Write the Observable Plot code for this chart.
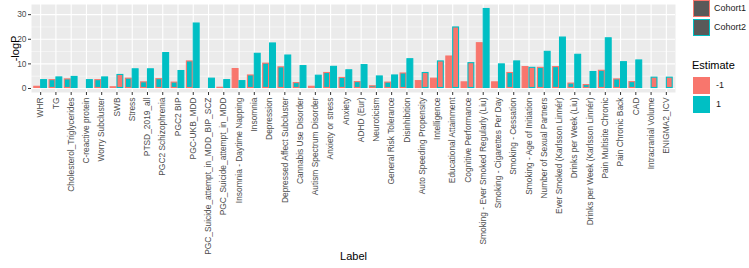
<!DOCTYPE html>
<html>
<head>
<meta charset="utf-8">
<script src="https://cdn.jsdelivr.net/npm/d3@7"></script>
<script src="https://cdn.jsdelivr.net/npm/@observablehq/plot@0.6"></script>
<style>
  body { margin: 0; background: #ffffff; }
  #wrap { position: relative; width: 749px; height: 268px; font-family: "Liberation Sans", Arial, sans-serif; }
  #chart svg { display: block; }
  .key { position: absolute; width: 15px; height: 15px; box-sizing: content-box; }
  .ltxt { position: absolute; font-size: 9px; color: #1a1a1a; line-height: 1; }
  .ltitle { position: absolute; font-size: 11px; color: #000; line-height: 1; }
</style>
</head>
<body>
<div id="wrap">
  <div id="chart"></div>
</div>
<script>
const labels = [
  "WHR", "TG", "Cholesterol_Triglycerides", "C-reactive protein", "Worry Subcluster",
  "SWB", "Stress", "PTSD_2019_all", "PGC2 Schizophrenia", "PGC2 BIP",
  "PGC-UKB_MDD", "PGC_Suicide_attempt_in_MDD_BIP_SCZ", "PGC_Suicide_attempt_in_MDD",
  "Insomnia - Daytime Napping", "Insomnia", "Depression", "Depressed Affect Subcluster",
  "Cannabis Use Disorder", "Autism Spectrum Disorder", "Anxiety or stress", "Anxiety",
  "ADHD (Eur)", "Neuroticism", "General Risk Tolerance", "Disinhibition",
  "Auto Speeding Propensity", "Intelligence", "Educational Attainment", "Cognitive Performance",
  "Smoking - Ever Smoked Regularly (Liu)", "Smoking - Cigarettes Per Day", "Smoking - Cessation",
  "Smoking - Age of Initiation", "Number of Sexual Partners", "Ever Smoked (Karlsson Linnér)",
  "Drinks per Week (Liu)", "Drinks per Week (Karlsson Linnér)", "Pain Multisite Chronic",
  "Pain Chronic Back", "CAD", "Intracranial Volume", "ENIGMA2_ICV"
];
const cohort1Values = [0.9, 3.6, 3.9, 0.3, 3.6, 0.7, 4.2, 2.7, 4.0, 2.6, 11.2, 0.3, 0.5, 8.1, 5.5, 10.3, 8.8, 2.4, 0.9, 6.5, 4.5, 2.8, 1.1, 2.6, 6.3, 3.2, 4.2, 13.2, 2.7, 18.6, 2.7, 6.5, 8.9, 8.6, 8.9, 2.2, 1.6, 7.4, 3.9, 2.8, 0.3, 0.3];
const cohort1Estimate = [-1, 1, 1, -1, 1, -1, 1, 1, 1, 1, 1, -1, -1, -1, 1, 1, 1, 1, -1, 1, 1, 1, 1, 1, 1, -1, -1, -1, -1, -1, -1, 1, -1, 1, 1, 1, 1, 1, 1, 1, -1, -1];
const cohort2Values = [3.6, 4.7, 4.9, 3.6, 4.7, 5.7, 8.0, 8.0, 14.6, 7.3, 26.6, 4.2, 3.6, 3.2, 14.3, 18.5, 13.6, 9.3, 5.4, 9.0, 7.6, 9.7, 5.1, 5.5, 12.1, 6.5, 11.2, 25.0, 10.5, 32.5, 10.0, 11.2, 8.6, 15.1, 20.9, 13.9, 6.9, 20.6, 10.9, 11.6, 4.6, 4.6];
const cohort2Estimate = [1, 1, 1, 1, 1, -1, 1, 1, 1, 1, 1, 1, 1, 1, 1, 1, 1, 1, 1, 1, 1, 1, 1, 1, 1, -1, -1, -1, -1, 1, 1, 1, -1, 1, 1, 1, 1, 1, 1, 1, -1, -1];
const yTicks = [0, 10, 20, 30];
const yMinor = [5, 15, 25];
const cohorts = ["Cohort1", "Cohort2"];
const estimates = [-1, 1];

const estColor = {"-1": "#F8766D", "1": "#00BFC4"};
const cohortColor = {"Cohort1": "#F8766D", "Cohort2": "#00BFC4"};

const idx = labels.map((d, i) => i + 1);
const rows = labels.flatMap((l, i) => [
  {i: i + 1, cohort: "Cohort1", v: cohort1Values[i], est: cohort1Estimate[i]},
  {i: i + 1, cohort: "Cohort2", v: cohort2Values[i], est: cohort2Estimate[i]}
]);
const maxV = d3.max(rows, d => d.v);
const pad = maxV * 0.05;

const chart = Plot.plot({
  width: 749,
  height: 268,
  marginLeft: 31,
  marginRight: 74,
  marginTop: 4,
  marginBottom: 176,
  style: {fontFamily: "'Liberation Sans', Arial, sans-serif", fontSize: "8.4px", background: "transparent", overflow: "visible"},
  x: {type: "linear", domain: [0.4, labels.length + 0.6]},
  y: {domain: [-pad, maxV + pad]},
  marks: [
    Plot.frame({fill: "#EBEBEB", stroke: null}),
    Plot.ruleY(yMinor, {stroke: "white", strokeWidth: 0.5}),
    Plot.ruleY(yTicks, {stroke: "white", strokeWidth: 1.1}),
    Plot.ruleX(idx, {stroke: "white", strokeWidth: 1.1}),
    Plot.rectY(rows, {
      x1: d => d.cohort === "Cohort1" ? d.i - 0.45 : d.i,
      x2: d => d.cohort === "Cohort1" ? d.i : d.i + 0.45,
      y1: 0,
      y2: "v",
      fill: d => estColor[d.est],
      stroke: d => cohortColor[d.cohort],
      strokeWidth: 1.1,
      inset: 0.5
    }),
    Plot.axisX({ticks: idx, tickFormat: i => labels[i - 1], tickRotate: -90, tickSize: 3, tickPadding: 2, label: null, fill: "#4D4D4D", stroke: "#333333"}),
    Plot.axisY({ticks: yTicks, tickSize: 3, tickPadding: 2, label: null, fill: "#4D4D4D", stroke: "#333333"}),
    Plot.text(["-logP"], {text: d => d, frameAnchor: "left", textAnchor: "middle", dx: -16, rotate: -90, fontSize: 11, fill: "#000"}),
    Plot.text(["Label"], {text: d => d, frameAnchor: "bottom", dy: 167, fontSize: 11, fill: "#000"})
  ]
});
document.getElementById("chart").appendChild(chart);

// legend (HTML)
const wrap = document.getElementById("wrap");
function add(tag, cls, style, text) {
  const el = document.createElement(tag);
  el.className = cls;
  Object.assign(el.style, style);
  if (text != null) el.textContent = text;
  wrap.appendChild(el);
  return el;
}
cohorts.forEach((c, k) => {
  const top = 0 + k * 19;
  add("div", "key", {left: "693px", top: top + "px", background: "#595959", border: "1px solid " + cohortColor[c]});
  add("div", "ltxt", {left: "714px", top: (top + 4) + "px"}, c);
});
add("div", "ltitle", {left: "692px", top: "60px"}, "Estimate");
estimates.forEach((e, k) => {
  const top = 77 + k * 19;
  add("div", "key", {left: "693px", top: top + "px", background: estColor[e], border: "1px solid " + estColor[e]});
  add("div", "ltxt", {left: "716px", top: (top + 4) + "px"}, String(e));
});
</script>
</body>
</html>
